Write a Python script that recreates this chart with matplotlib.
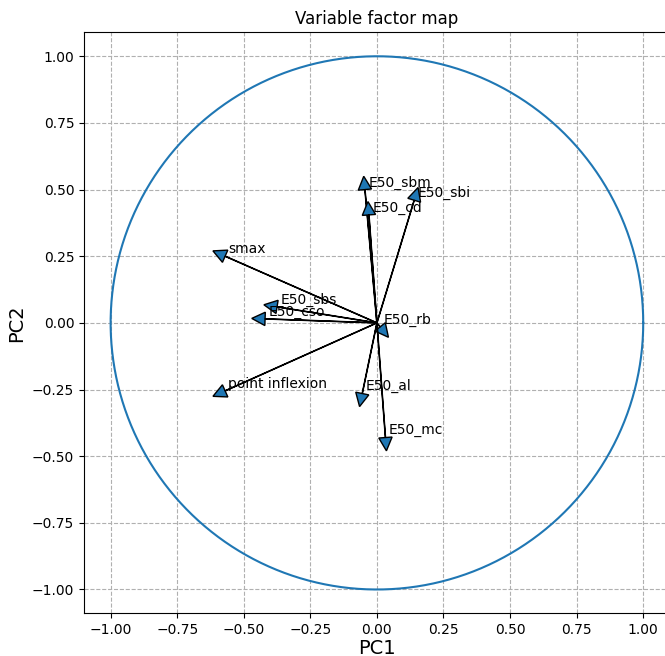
import numpy as np
import matplotlib.pyplot as plt

# loadings of each variable on PC1 / PC2
labels = ['E50_sbm', 'E50_sbi', 'E50_cd', 'smax', 'E50_sbs', 'E50_cso',
          'E50_rb', 'point inflexion', 'E50_al', 'E50_mc']
pc1 = [-0.045, 0.14, -0.03, -0.57, -0.375, -0.42, 0.012, -0.57, -0.055, 0.032]
pc2 = [0.50, 0.46, 0.405, 0.25, 0.06, 0.015, -0.015, -0.255, -0.265, -0.43]

ticks = np.arange(-1.0, 1.01, 0.25)

fig = plt.figure(figsize=(6.65, 6.56), dpi=100)
ax = fig.add_axes([0.1263, 0.0648, 0.881, 0.886])

for x, y, name in zip(pc1, pc2, labels):
    ax.arrow(0, 0, x, y, head_width=0.05, head_length=0.05, fc='C0', ec='k')
    ax.text(x + 0.012, y + 0.012, name, fontsize=10)

# unit circle
an = np.linspace(0, 2 * np.pi, 200)
ax.plot(np.cos(an), np.sin(an), color='C0')

ax.set_xlim(-1.1, 1.1)
ax.set_ylim(-1.09, 1.09)
ax.set_aspect('equal', adjustable='datalim')
ax.set_xticks(ticks)
ax.set_yticks(ticks)
ax.grid(True, linestyle='--')
ax.set_axisbelow(True)
ax.set_xlabel('PC1', fontsize=14, labelpad=1)
ax.set_ylabel('PC2', fontsize=14)
ax.set_title('Variable factor map')

fig.savefig('out.png', dpi=100)
